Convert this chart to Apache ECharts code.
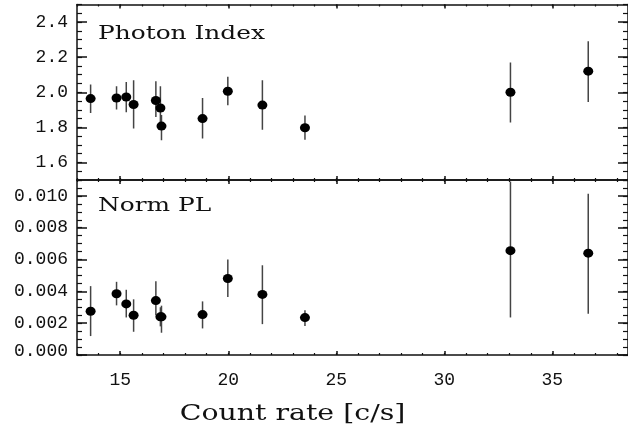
<!DOCTYPE html>
<html>
<head>
<meta charset="utf-8">
<script src="https://cdn.jsdelivr.net/npm/echarts@6/dist/echarts.min.js"></script>
<style>html,body{margin:0;padding:0;background:#fff}#c{width:628px;height:435px}</style>
</head>
<body>
<div id="c"></div>
<script>
// ---- data ----
const countRate = [13.63, 14.83, 15.28, 15.62, 16.65, 16.86, 16.91, 18.81, 19.98, 21.58, 23.55, 33.06, 36.66];
const photonIndex   = [1.964, 1.967, 1.973, 1.930, 1.953, 1.910, 1.807, 1.850, 2.006, 1.927, 1.798, 2.000, 2.120];
const photonIndexLo = [1.882, 1.901, 1.886, 1.794, 1.859, 1.830, 1.726, 1.736, 1.926, 1.787, 1.730, 1.827, 1.945];
const photonIndexHi = [2.044, 2.034, 2.059, 2.069, 2.063, 2.034, 1.870, 1.967, 2.088, 2.069, 1.867, 2.170, 2.291];
const normPL   = [0.00275, 0.00385, 0.00321, 0.00250, 0.00342, 0.00240, 0.00240, 0.00254, 0.00481, 0.00381, 0.00235, 0.00656, 0.00640];
const normPLLo = [0.00119, 0.00312, 0.00236, 0.00146, 0.00250, 0.00180, 0.00140, 0.00167, 0.00365, 0.00194, 0.00183, 0.00236, 0.00260];
const normPLHi = [0.00433, 0.00460, 0.00410, 0.00350, 0.00464, 0.00300, 0.00310, 0.00337, 0.00600, 0.00564, 0.00281, 0.01090, 0.01014];
const rateTicks   = [15, 20, 25, 30, 35];
const photonTicks = [1.6, 1.8, 2.0, 2.2, 2.4];
const normTicks   = [0, 0.002, 0.004, 0.006, 0.008, 0.010];
const xTitle = 'Count rate [c/s]';
const topLabel = 'Photon Index';
const bottomLabel = 'Norm PL';

// ---- styling ----
const INK = '#111';
const LW = 1.5;
const tickFont = '"Liberation Mono", "DejaVu Sans Mono", monospace';
const X_MIN = 13, X_MAX = 38.5;

function xAxesFor(grid, showLabels) {
  const line = {show: true, onZero: false, lineStyle: {color: INK, width: LW}};
  const major = (pos, labels) => ({
    type: 'value', gridIndex: grid, position: pos, min: X_MIN, max: X_MAX,
    axisLine: line, splitLine: {show: false},
    axisTick: {show: true, inside: true, length: 4, customValues: rateTicks, lineStyle: {color: INK, width: LW}},
    axisLabel: {show: labels, customValues: rateTicks, margin: 16, color: INK,
      fontFamily: tickFont, fontSize: 18, formatter: v => String(v)}
  });
  const minor = pos => ({
    type: 'value', gridIndex: grid, position: pos, min: X_MIN, max: X_MAX, interval: 1,
    axisLine: {show: false, onZero: false}, splitLine: {show: false},
    axisTick: {show: true, inside: true, length: 2, lineStyle: {color: INK, width: 1.2}},
    axisLabel: {show: false}
  });
  return [major('bottom', showLabels), minor('bottom'), major('top', false), minor('top')];
}

function yAxesFor(grid, min, max, minorInt, ticks, digits) {
  const line = {show: true, onZero: false, lineStyle: {color: INK, width: LW}};
  const major = (pos, labels) => ({
    type: 'value', gridIndex: grid, position: pos, min: min, max: max,
    axisLine: line, splitLine: {show: false},
    axisTick: {show: true, inside: true, length: 10, customValues: ticks, lineStyle: {color: INK, width: LW}},
    axisLabel: {show: labels, customValues: ticks, margin: 9, color: INK,
      fontFamily: tickFont, fontSize: 18,
      formatter: v => (v === 0 ? '{z|' + v.toFixed(digits) + '}' : v.toFixed(digits)),
      rich: {z: {fontFamily: tickFont, fontSize: 18, color: INK, padding: [0, 0, 8, 0]}}}
  });
  const minor = pos => ({
    type: 'value', gridIndex: grid, position: pos, min: min, max: max, interval: minorInt,
    axisLine: {show: false, onZero: false}, splitLine: {show: false},
    axisTick: {show: true, inside: true, length: 5, lineStyle: {color: INK, width: 1.2}},
    axisLabel: {show: false}
  });
  return [major('left', true), minor('left'), major('right', false), minor('right')];
}

function errorBars(xi, yi, lo, hi) {
  return {
    type: 'custom', xAxisIndex: xi, yAxisIndex: yi, clip: true, z: 2, silent: true,
    data: countRate.map((x, i) => [x, lo[i], hi[i]]),
    encode: {x: 0, y: [1, 2]},
    renderItem: (params, api) => {
      const a = api.coord([api.value(0), api.value(1)]);
      const b = api.coord([api.value(0), api.value(2)]);
      return {type: 'line', shape: {x1: a[0], y1: a[1], x2: b[0], y2: b[1]},
        style: {stroke: '#444', lineWidth: 1.5}};
    }
  };
}
function dots(xi, yi, vals) {
  return {
    type: 'scatter', xAxisIndex: xi, yAxisIndex: yi, z: 3, silent: true,
    symbol: 'circle', symbolSize: [10, 9],
    itemStyle: {color: '#000', opacity: 1},
    data: countRate.map((x, i) => [x, vals[i]])
  };
}

const chart = echarts.init(document.getElementById('c'), null, {renderer: 'canvas'});
chart.setOption({
  animation: false,
  backgroundColor: '#fff',
  grid: [
    {left: 77, top: 4.5, width: 552.5, height: 175.5, containLabel: false},
    {left: 77, top: 180, width: 552.5, height: 175, containLabel: false}
  ],
  xAxis: [].concat(xAxesFor(0, false), xAxesFor(1, true)),
  yAxis: [].concat(
    yAxesFor(0, 1.5, 2.5, 0.05, photonTicks, 1),
    yAxesFor(1, 0, 0.011, 0.0005, normTicks, 3)
  ),
  series: [
    errorBars(0, 0, photonIndexLo, photonIndexHi),
    dots(0, 0, photonIndex),
    errorBars(4, 4, normPLLo, normPLHi),
    dots(4, 4, normPL)
  ],
  graphic: [
    {type: 'text', x: 98, y: 34, scaleX: 1.38, silent: true,
      style: {text: topLabel, font: '18px "DejaVu Serif"', fill: INK, align: 'left', verticalAlign: 'middle'}},
    {type: 'text', x: 98, y: 206, scaleX: 1.38, silent: true,
      style: {text: bottomLabel, font: '18px "DejaVu Serif"', fill: INK, align: 'left', verticalAlign: 'middle'}},
    {type: 'text', x: 292.5, y: 414, scaleX: 1.29, silent: true,
      style: {text: xTitle, font: '22px "DejaVu Serif"', fill: INK, align: 'center', verticalAlign: 'middle'}}
  ]
});
</script>
</body>
</html>
